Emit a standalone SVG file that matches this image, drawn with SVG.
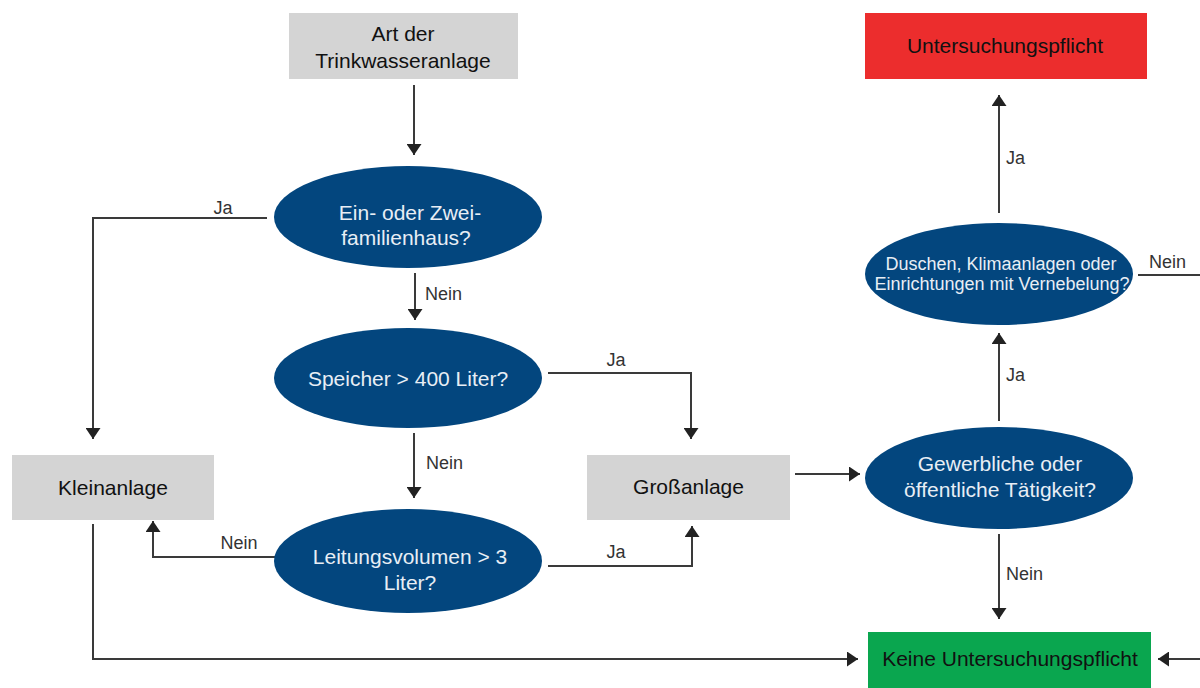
<svg xmlns="http://www.w3.org/2000/svg" width="1200" height="688" viewBox="0 0 1200 688">
<defs>
<marker id="ah" viewBox="0 0 11 15" refX="11" refY="7.5" markerWidth="11" markerHeight="15" markerUnits="userSpaceOnUse" orient="auto">
<path d="M0,0 L11,7.5 L0,15 z" fill="#222"/>
</marker>
<style>
.box{fill:#d4d4d4}
.ell{fill:#03467e}
.bt{font-family:"Liberation Sans",Arial,sans-serif;font-size:21px;fill:#111;text-anchor:middle}
.et{font-family:"Liberation Sans",Arial,sans-serif;font-size:21px;fill:#e8eef5;text-anchor:middle}
.et2{font-family:"Liberation Sans",Arial,sans-serif;font-size:18px;fill:#e8eef5;text-anchor:middle}
.lb{font-family:"Liberation Sans",Arial,sans-serif;font-size:18px;fill:#333}
.c{fill:none;stroke:#3a3a3a;stroke-width:2}
.ca{fill:none;stroke:#3a3a3a;stroke-width:2;marker-end:url(#ah)}
</style>
</defs>
<rect width="1200" height="688" fill="#fff"/>

<g id="connectors">
<path class="ca" d="M414 85 V155"/>
<path class="ca" d="M267 218 H93 V439"/>
<path class="ca" d="M415 273 V320"/>
<path class="ca" d="M548 373 H691 V439"/>
<path class="ca" d="M414 433 V498"/>
<path class="ca" d="M277 557 H153 V521"/>
<path class="ca" d="M548 566 H692 V526"/>
<path class="ca" d="M93 524 V659 H858"/>
<path class="ca" d="M795 474 H860"/>
<path class="ca" d="M999 421 V333"/>
<path class="ca" d="M999 534 V619"/>
<path class="ca" d="M999 213 V95"/>
<path class="c" d="M1138 275 H1200"/>
<path class="ca" d="M1200 659 H1158"/>
<text class="lb" x="223" y="214" text-anchor="middle">Ja</text>
<text class="lb" x="425" y="300">Nein</text>
<text class="lb" x="616" y="366" text-anchor="middle">Ja</text>
<text class="lb" x="426" y="469">Nein</text>
<text class="lb" x="239" y="549" text-anchor="middle">Nein</text>
<text class="lb" x="616" y="558" text-anchor="middle">Ja</text>
<text class="lb" x="1006" y="381">Ja</text>
<text class="lb" x="1006" y="580">Nein</text>
<text class="lb" x="1006" y="164">Ja</text>
<text class="lb" x="1149" y="268">Nein</text>
</g>

<g id="art">
<rect class="box" x="289" y="13" width="229" height="66"/>
<text class="bt" x="403" y="40.5">Art der</text>
<text class="bt" x="403" y="67.5">Trinkwasseranlage</text>
</g>

<g id="zweifamilienhaus">
<ellipse class="ell" cx="408" cy="217" rx="134" ry="51"/>
<text class="et" x="410" y="219.5">Ein- oder Zwei-</text>
<text class="et" x="406" y="244.5">familienhaus?</text>
</g>

<g id="speicher">
<ellipse class="ell" cx="408" cy="378" rx="134" ry="50"/>
<text class="et" x="408" y="385.5">Speicher &gt; 400 Liter?</text>
</g>

<g id="leitungsvolumen">
<ellipse class="ell" cx="408" cy="561" rx="134" ry="52"/>
<text class="et" x="410" y="563.5">Leitungsvolumen &gt; 3</text>
<text class="et" x="410" y="589.5">Liter?</text>
</g>

<g id="kleinanlage">
<rect class="box" x="12" y="455" width="202" height="65"/>
<text class="bt" x="113" y="494.5">Kleinanlage</text>
</g>

<g id="grossanlage">
<rect class="box" x="587" y="455" width="203" height="65"/>
<text class="bt" x="688.5" y="493.5">Großanlage</text>
</g>

<g id="gewerblich">
<ellipse class="ell" cx="999" cy="478" rx="134" ry="51"/>
<text class="et" x="1000" y="470.5">Gewerbliche oder</text>
<text class="et" x="1000" y="496.5">öffentliche Tätigkeit?</text>
</g>

<g id="duschen">
<ellipse class="ell" cx="999" cy="274" rx="134" ry="51"/>
<text class="et2" x="1001" y="269.5">Duschen, Klimaanlagen oder</text>
<text class="et2" x="1002" y="289.5">Einrichtungen mit Vernebelung?</text>
</g>

<g id="untersuchungspflicht">
<rect x="865" y="13" width="282" height="66" fill="#ec2d2d"/>
<text class="bt" x="1005" y="52.5">Untersuchungspflicht</text>
</g>

<g id="keine">
<rect x="868" y="632" width="283" height="60" fill="#0aa64f"/>
<text class="bt" x="1010" y="665.5">Keine Untersuchungspflicht</text>
</g>
</svg>
